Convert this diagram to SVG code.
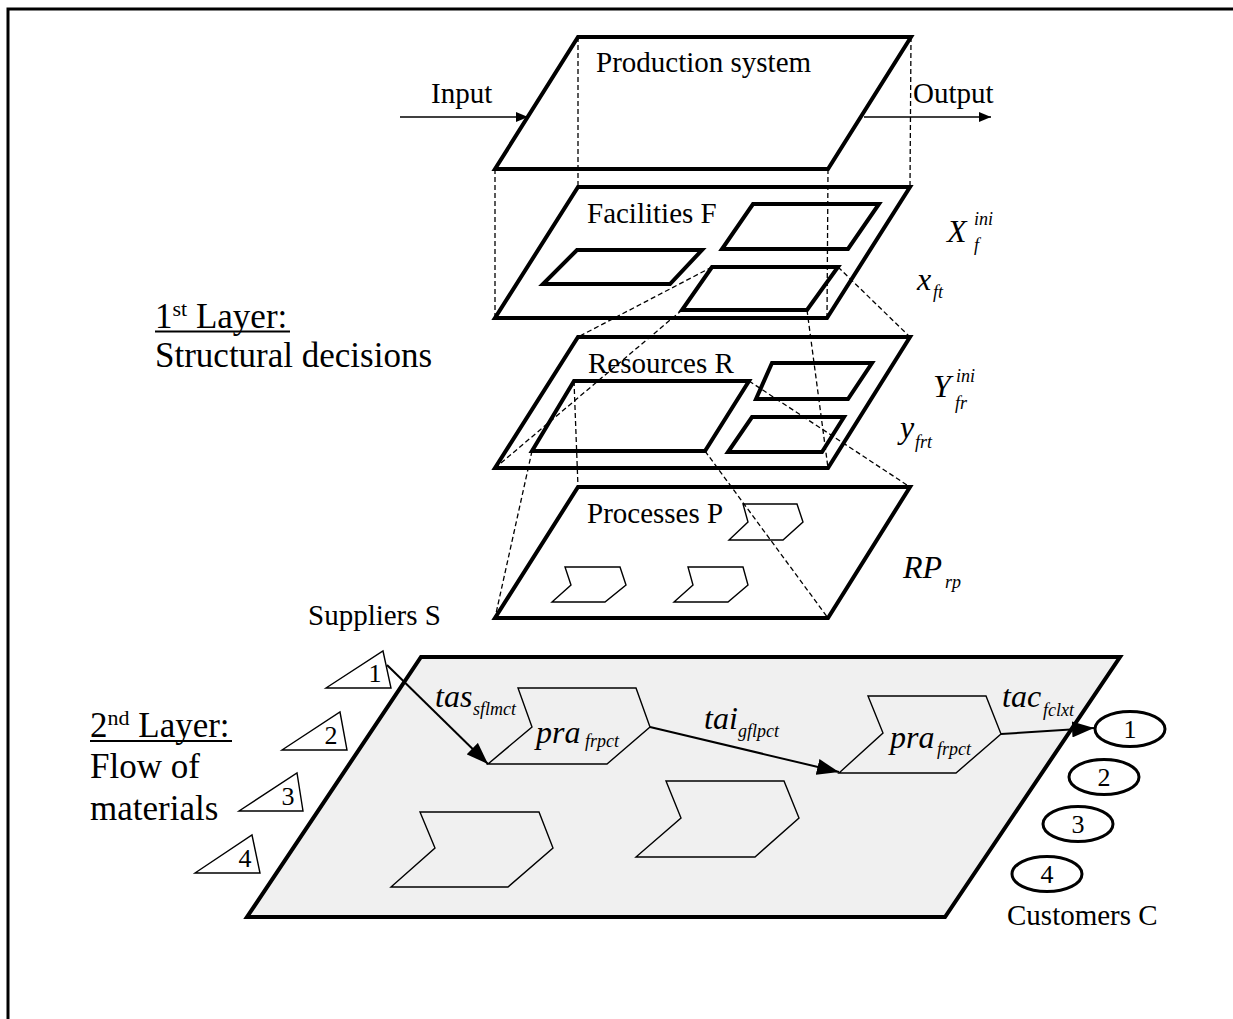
<svg xmlns="http://www.w3.org/2000/svg" width="1233" height="1019" viewBox="0 0 1233 1019">
  <defs>
    <marker id="head-small" markerUnits="userSpaceOnUse" markerWidth="12" markerHeight="10" refX="12" refY="5" orient="auto">
      <path d="M0,0 L12,5 L0,10 z" fill="#000"/>
    </marker>
    <marker id="head-big" markerUnits="userSpaceOnUse" markerWidth="22" markerHeight="16" refX="22" refY="8" orient="auto">
      <path d="M0,0 L22,8 L0,16 z" fill="#000"/>
    </marker>
  </defs>
  <style>
    text { font-family: "Liberation Serif", "Times New Roman", serif; fill: #000; }
    .plane { fill: #fff; stroke: #000; stroke-width: 4; stroke-linejoin: miter; }
    .floor { fill: #f0f0f0; stroke: #000; stroke-width: 4; }
    .cell { fill: none; stroke: #000; stroke-width: 4; }
    .proc { fill: #fff; stroke: #000; stroke-width: 1.4; }
    .proc-g { fill: #f0f0f0; stroke: #000; stroke-width: 1.4; }
    .tri { fill: #fff; stroke: #000; stroke-width: 1.4; }
    .cust { fill: #fff; stroke: #000; stroke-width: 3; }
    .dash { fill: none; stroke: #000; stroke-width: 1.3; stroke-dasharray: 5 3; }
    .flow { fill: none; stroke: #000; stroke-width: 2; marker-end: url(#head-big); }
    .io { fill: none; stroke: #000; stroke-width: 1.6; marker-end: url(#head-small); }
    .t29 { font-size: 29px; }
    .t35 { font-size: 35px; }
    .num { font-size: 26px; text-anchor: middle; }
    .var { font-size: 32px; font-style: italic; }
    .idx { font-size: 18px; font-style: italic; }
  </style>

  <!-- page frame -->
  <path d="M8,1019 V9 H1233" fill="none" stroke="#000" stroke-width="3"/>

  <!-- layer captions -->
  <g id="caption-layer1">
    <text class="t35" x="155" y="328">1<tspan font-size="22" dy="-12">st</tspan><tspan dy="12"> Layer:</tspan></text>
    <line x1="155" y1="331.5" x2="290" y2="331.5" stroke="#000" stroke-width="2"/>
    <text class="t35" x="155" y="367">Structural decisions</text>
  </g>
  <g id="caption-layer2">
    <text class="t35" x="90" y="737">2<tspan font-size="22" dy="-12">nd</tspan><tspan dy="12"> Layer:</tspan></text>
    <line x1="90" y1="741" x2="232" y2="741" stroke="#000" stroke-width="2"/>
    <text class="t35" x="90" y="778">Flow of</text>
    <text class="t35" x="90" y="820">materials</text>
  </g>

  <!-- production system -->
  <g id="production-system">
    <polygon class="plane" points="578,37 911,37 828,169 495,169"/>
    <text class="t29" x="596" y="72">Production system</text>
  </g>

  <!-- facilities -->
  <g id="facilities">
    <polygon class="plane" points="578,187 910,187 827,318 495,318"/>
    <polygon class="cell" points="577,250 702,250 670,284 543,284"/>
    <polygon class="cell" points="753,204 879,204 848,249 722,249"/>
    <polygon class="cell" points="712,267 838,267 807,310 682,310"/>
    <text class="t29" x="587" y="223">Facilities F</text>
  </g>

  <!-- resources -->
  <g id="resources">
    <polygon class="plane" points="578,337 910,337 828,468 495,468"/>
    <polygon class="cell" points="574,381 749,381 705,451 532,451"/>
    <polygon class="cell" points="772,363 872,363 848,399 756,399"/>
    <polygon class="cell" points="752,417 844,417 822,452 728,452"/>
    <text class="t29" x="588" y="373">Resources R</text>
  </g>

  <!-- processes -->
  <g id="processes">
    <polygon class="plane" points="578,487 910,487 828,618 495,618"/>
    <polygon class="proc" points="743,504 797,504 803,522 783,540 729,540 748,522"/>
    <polygon class="proc" points="565,567 620,567 626,585 605,602 552,602 571,585"/>
    <polygon class="proc" points="688,567 743,567 748,585 728,602 674,602 693,585"/>
    <text class="t29" x="587" y="523">Processes P</text>
  </g>

  <!-- material flow floor -->
  <g id="flow-layer">
    <polygon class="floor" points="421,657 1120,657 945,917 247,917"/>
    <polygon class="proc-g" points="518,688 636,688 650,727 607,764 488,764 532,727"/>
    <polygon class="proc-g" points="868,696 986,696 1001,734 956,773 839,773 883,733"/>
    <polygon class="proc-g" points="420,812 539,812 553,848 508,887 391,887 435,848"/>
    <polygon class="proc-g" points="666,781 784,781 799,818 755,857 636,857 681,818"/>
  </g>

  <!-- suppliers -->
  <g id="suppliers">
    <text class="t29" x="308" y="625">Suppliers S</text>
    <g id="supplier-1"><polygon class="tri" points="326,688 383,651 391,688"/><text class="num" x="375" y="682">1</text></g>
    <g id="supplier-2"><polygon class="tri" points="282,750 340,712 347,750"/><text class="num" x="331" y="744">2</text></g>
    <g id="supplier-3"><polygon class="tri" points="239,811 297,773 303,811"/><text class="num" x="288" y="805">3</text></g>
    <g id="supplier-4"><polygon class="tri" points="195,873 252,835 260,873"/><text class="num" x="245" y="867">4</text></g>
  </g>

  <!-- customers -->
  <g id="customers">
    <g id="customer-1"><ellipse class="cust" cx="1130" cy="729" rx="35" ry="17.5"/><text class="num" x="1130" y="738">1</text></g>
    <g id="customer-2"><ellipse class="cust" cx="1104" cy="777" rx="35" ry="17.5"/><text class="num" x="1104" y="786">2</text></g>
    <g id="customer-3"><ellipse class="cust" cx="1078" cy="824" rx="35" ry="17.5"/><text class="num" x="1078" y="833">3</text></g>
    <g id="customer-4"><ellipse class="cust" cx="1047" cy="874" rx="35" ry="17.5"/><text class="num" x="1047" y="883">4</text></g>
    <text class="t29" x="1007" y="925">Customers C</text>
  </g>

  <!-- connectors -->
  <g id="connectors">
    <!-- vertical projections between the upper planes -->
    <line class="dash" x1="578" y1="37" x2="578" y2="187"/>
    <line class="dash" x1="911" y1="37" x2="910" y2="187"/>
    <line class="dash" x1="495" y1="169" x2="495" y2="318"/>
    <line class="dash" x1="828" y1="169" x2="827" y2="318"/>
    <!-- facility cell onto resources plane -->
    <line class="dash" x1="712" y1="267" x2="578" y2="337"/>
    <line class="dash" x1="682" y1="310" x2="495" y2="468"/>
    <line class="dash" x1="838" y1="267" x2="910" y2="337"/>
    <line class="dash" x1="807" y1="310" x2="828" y2="468"/>
    <!-- resource cell onto processes plane -->
    <line class="dash" x1="574" y1="381" x2="578" y2="487"/>
    <line class="dash" x1="532" y1="451" x2="495" y2="618"/>
    <line class="dash" x1="749" y1="381" x2="910" y2="487"/>
    <line class="dash" x1="705" y1="451" x2="828" y2="618"/>
    <!-- input / output -->
    <line class="io" x1="400" y1="117" x2="528" y2="117"/>
    <line class="io" x1="864" y1="117" x2="991" y2="117"/>
    <!-- material flows -->
    <line class="flow" x1="387" y1="665" x2="488" y2="764"/>
    <line class="flow" x1="650" y1="727" x2="839" y2="772"/>
    <line class="flow" x1="1001" y1="734" x2="1094" y2="728"/>
  </g>

  <!-- labels -->
  <g id="labels">
    <text class="t29" x="431" y="103">Input</text>
    <text class="t29" x="913" y="103">Output</text>

    <text class="var" x="947" y="242">X</text>
    <text class="idx" x="974" y="225">ini</text>
    <text class="idx" x="974" y="251">f</text>
    <text class="var" x="917" y="290">x</text>
    <text class="idx" x="933" y="298">ft</text>
    <text class="var" x="933" y="397">Y</text>
    <text class="idx" x="956" y="382">ini</text>
    <text class="idx" x="955" y="409">fr</text>
    <text class="var" x="900" y="438">y</text>
    <text class="idx" x="915" y="448">frt</text>
    <text class="var" x="903" y="578">RP</text>
    <text class="idx" x="945" y="588">rp</text>

    <text class="var" x="435" y="707">tas</text>
    <text class="idx" x="473" y="715">sflmct</text>
    <text class="var" x="536" y="743">pra</text>
    <text class="idx" x="585" y="747">frpct</text>
    <text class="var" x="704" y="729">tai</text>
    <text class="idx" x="738" y="737">gflpct</text>
    <text class="var" x="890" y="748">pra</text>
    <text class="idx" x="937" y="755">frpct</text>
    <text class="var" x="1002" y="707">tac</text>
    <text class="idx" x="1043" y="716">fclxt</text>
  </g>
</svg>
